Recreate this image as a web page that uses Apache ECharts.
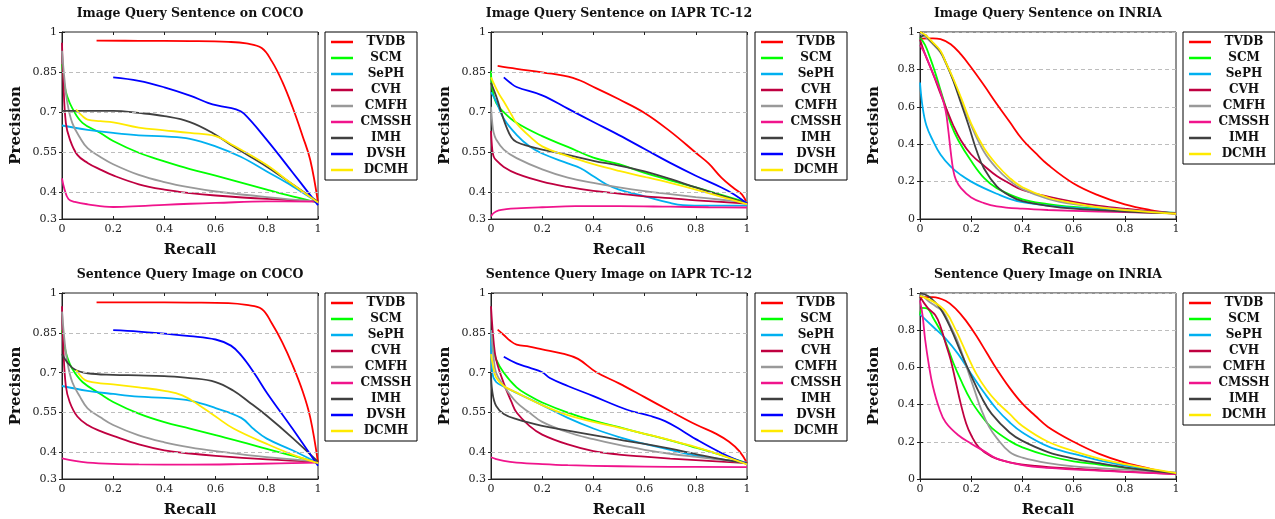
<!DOCTYPE html>
<html>
<head>
<meta charset="utf-8">
<script src="https://cdn.jsdelivr.net/npm/echarts@6/dist/echarts.min.js"></script>
<style>
  html, body { margin: 0; padding: 0; background: #fff; }
  #chart { width: 1275px; height: 519px; }
</style>
</head>
<body>
<div id="chart"></div>
<script>
// method names, in legend order
const methods = ['TVDB', 'SCM', 'SePH', 'CVH', 'CMFH', 'CMSSH', 'IMH', 'DVSH', 'DCMH'];
const methodsInria = ['TVDB', 'SCM', 'SePH', 'CVH', 'CMFH', 'CMSSH', 'IMH', 'DCMH'];

const titles = [
  'Image Query Sentence on COCO', 'Image Query Sentence on IAPR TC-12', 'Image Query Sentence on INRIA',
  'Sentence Query Image on COCO', 'Sentence Query Image on IAPR TC-12', 'Sentence Query Image on INRIA'
];

const yTicksCoco = [0.3, 0.4, 0.55, 0.7, 0.85, 1];
const yGridCoco = [0.4, 0.55, 0.7, 0.85];

// ---- Image query Sentence, COCO  [recall, precision]
const isCoco_TVDB = [[0.135,0.968],[0.3,0.967],[0.5,0.966],[0.65,0.963],[0.72,0.957],[0.78,0.94],[0.82,0.89],[0.86,0.815],[0.9,0.72],[0.94,0.61],[0.97,0.52],[1,0.362]];
const isCoco_SCM = [[0,0.88],[0.01,0.8],[0.02,0.76],[0.04,0.715],[0.08,0.66],[0.15,0.622],[0.2,0.592],[0.3,0.548],[0.4,0.516],[0.5,0.487],[0.6,0.462],[0.7,0.436],[0.8,0.41],[0.9,0.385],[1,0.362]];
const isCoco_SePH = [[0,0.65],[0.1,0.634],[0.2,0.622],[0.3,0.613],[0.4,0.609],[0.5,0.6],[0.6,0.572],[0.7,0.532],[0.8,0.478],[0.9,0.423],[1,0.362]];
const isCoco_CVH = [[0,0.96],[0.005,0.82],[0.015,0.66],[0.03,0.6],[0.06,0.54],[0.1,0.51],[0.15,0.485],[0.2,0.463],[0.3,0.43],[0.4,0.41],[0.5,0.397],[0.6,0.388],[0.8,0.375],[1,0.366]];
const isCoco_CMFH = [[0,0.93],[0.01,0.82],[0.02,0.74],[0.04,0.66],[0.07,0.605],[0.1,0.565],[0.15,0.532],[0.2,0.505],[0.3,0.465],[0.4,0.438],[0.5,0.418],[0.6,0.403],[0.8,0.382],[1,0.365]];
const isCoco_CMSSH = [[0,0.452],[0.01,0.41],[0.025,0.375],[0.05,0.364],[0.1,0.355],[0.2,0.345],[0.3,0.348],[0.4,0.353],[0.5,0.357],[0.6,0.36],[0.8,0.366],[1,0.365]];
const isCoco_IMH = [[0,0.705],[0.2,0.705],[0.3,0.697],[0.4,0.685],[0.5,0.663],[0.59,0.621],[0.67,0.571],[0.8,0.496],[0.9,0.43],[1,0.365]];
const isCoco_DVSH = [[0.2,0.83],[0.3,0.817],[0.4,0.793],[0.5,0.762],[0.57,0.735],[0.61,0.724],[0.68,0.71],[0.71,0.695],[0.8,0.596],[0.9,0.475],[1,0.352]];
const isCoco_DCMH = [[0.055,0.71],[0.08,0.685],[0.1,0.672],[0.15,0.666],[0.2,0.662],[0.3,0.642],[0.4,0.632],[0.5,0.622],[0.6,0.61],[0.67,0.575],[0.8,0.502],[0.9,0.43],[1,0.362]];

// ---- Image query Sentence, IAPR TC-12
const isIapr_TVDB = [[0.026,0.873],[0.1,0.862],[0.2,0.849],[0.32,0.828],[0.41,0.79],[0.5,0.748],[0.6,0.697],[0.7,0.628],[0.8,0.548],[0.85,0.508],[0.9,0.455],[0.95,0.414],[0.98,0.392],[1,0.358]];
const isIapr_SCM = [[0,0.855],[0.005,0.79],[0.02,0.735],[0.05,0.7],[0.1,0.66],[0.2,0.61],[0.3,0.57],[0.4,0.53],[0.5,0.505],[0.6,0.473],[0.7,0.445],[0.8,0.418],[0.9,0.39],[1,0.362]];
const isIapr_SePH = [[0,0.775],[0.02,0.74],[0.05,0.675],[0.1,0.615],[0.15,0.572],[0.2,0.545],[0.3,0.508],[0.35,0.49],[0.4,0.46],[0.45,0.43],[0.5,0.41],[0.6,0.385],[0.7,0.36],[0.75,0.352],[0.85,0.35],[1,0.35]];
const isIapr_CVH = [[0,0.63],[0.005,0.56],[0.01,0.535],[0.02,0.52],[0.05,0.495],[0.1,0.47],[0.2,0.44],[0.3,0.42],[0.4,0.405],[0.5,0.395],[0.6,0.385],[0.7,0.378],[0.8,0.37],[1,0.358]];
const isIapr_CMFH = [[0,0.72],[0.005,0.66],[0.01,0.625],[0.02,0.598],[0.05,0.56],[0.1,0.528],[0.2,0.486],[0.3,0.455],[0.4,0.435],[0.5,0.418],[0.6,0.404],[0.7,0.393],[0.8,0.382],[0.9,0.372],[1,0.362]];
const isIapr_CMSSH = [[0,0.31],[0.01,0.322],[0.03,0.332],[0.06,0.337],[0.1,0.34],[0.2,0.344],[0.33,0.348],[0.5,0.348],[0.7,0.346],[0.85,0.344],[1,0.343]];
const isIapr_IMH = [[0,0.81],[0.02,0.76],[0.04,0.7],[0.06,0.645],[0.08,0.605],[0.1,0.588],[0.15,0.572],[0.2,0.56],[0.3,0.54],[0.4,0.518],[0.5,0.5],[0.6,0.478],[0.7,0.45],[0.8,0.418],[0.9,0.388],[1,0.358]];
const isIapr_DVSH = [[0.05,0.83],[0.075,0.81],[0.1,0.794],[0.2,0.763],[0.3,0.713],[0.4,0.663],[0.5,0.614],[0.6,0.562],[0.7,0.51],[0.8,0.462],[0.9,0.418],[0.95,0.392],[1,0.358]];
const isIapr_DCMH = [[0,0.83],[0.03,0.77],[0.05,0.74],[0.08,0.69],[0.1,0.658],[0.15,0.61],[0.2,0.572],[0.3,0.535],[0.4,0.505],[0.5,0.48],[0.6,0.458],[0.7,0.435],[0.8,0.41],[0.9,0.383],[1,0.356]];

// ---- Image query Sentence, INRIA
const isInria_TVDB = [[0,0.965],[0.05,0.966],[0.08,0.962],[0.12,0.935],[0.16,0.88],[0.2,0.81],[0.25,0.715],[0.3,0.615],[0.35,0.52],[0.4,0.425],[0.45,0.355],[0.5,0.29],[0.6,0.19],[0.7,0.125],[0.8,0.078],[0.9,0.048],[1,0.028]];
const isInria_SCM = [[0,0.97],[0.02,0.93],[0.04,0.86],[0.06,0.78],[0.08,0.69],[0.1,0.6],[0.12,0.51],[0.15,0.42],[0.2,0.31],[0.25,0.22],[0.3,0.165],[0.4,0.105],[0.5,0.08],[0.6,0.065],[0.8,0.045],[1,0.032]];
const isInria_SePH = [[0,0.73],[0.01,0.6],[0.025,0.5],[0.05,0.42],[0.08,0.345],[0.12,0.28],[0.16,0.235],[0.2,0.2],[0.25,0.165],[0.3,0.135],[0.35,0.108],[0.4,0.09],[0.5,0.072],[0.6,0.06],[0.8,0.045],[1,0.032]];
const isInria_CVH = [[0,0.96],[0.02,0.88],[0.05,0.78],[0.08,0.67],[0.1,0.6],[0.13,0.5],[0.16,0.42],[0.2,0.345],[0.25,0.285],[0.3,0.23],[0.35,0.19],[0.4,0.155],[0.5,0.12],[0.6,0.092],[0.7,0.07],[0.8,0.055],[1,0.03]];
const isInria_CMFH = [[0,0.99],[0.02,0.975],[0.05,0.935],[0.08,0.89],[0.1,0.835],[0.13,0.745],[0.16,0.64],[0.2,0.5],[0.25,0.36],[0.3,0.27],[0.35,0.205],[0.4,0.16],[0.5,0.108],[0.6,0.08],[0.8,0.05],[1,0.028]];
const isInria_CMSSH = [[0,0.93],[0.02,0.88],[0.05,0.78],[0.08,0.68],[0.1,0.58],[0.11,0.48],[0.12,0.36],[0.13,0.26],[0.14,0.21],[0.16,0.165],[0.2,0.115],[0.25,0.085],[0.3,0.068],[0.4,0.055],[0.5,0.048],[0.7,0.04],[1,0.03]];
const isInria_IMH = [[0,0.97],[0.02,0.985],[0.03,0.97],[0.05,0.94],[0.08,0.895],[0.1,0.84],[0.13,0.74],[0.16,0.62],[0.19,0.5],[0.22,0.37],[0.25,0.27],[0.3,0.175],[0.35,0.125],[0.4,0.095],[0.5,0.07],[0.6,0.055],[0.8,0.04],[1,0.03]];
const isInria_DCMH = [[0,1.0],[0.02,0.985],[0.05,0.945],[0.08,0.9],[0.1,0.84],[0.13,0.75],[0.16,0.65],[0.2,0.51],[0.25,0.38],[0.3,0.29],[0.35,0.22],[0.4,0.17],[0.5,0.115],[0.6,0.085],[0.7,0.062],[0.8,0.047],[1,0.028]];

// ---- Sentence query Image, COCO
const siCoco_TVDB = [[0.135,0.965],[0.3,0.965],[0.5,0.964],[0.65,0.962],[0.72,0.955],[0.78,0.94],[0.82,0.885],[0.86,0.815],[0.9,0.73],[0.94,0.63],[0.97,0.53],[1,0.362]];
const siCoco_SCM = [[0,0.86],[0.01,0.8],[0.02,0.76],[0.04,0.715],[0.08,0.665],[0.15,0.62],[0.2,0.59],[0.3,0.546],[0.4,0.514],[0.5,0.49],[0.6,0.465],[0.7,0.44],[0.8,0.413],[0.9,0.388],[1,0.362]];
const siCoco_SePH = [[0,0.65],[0.1,0.632],[0.2,0.62],[0.3,0.61],[0.4,0.605],[0.5,0.595],[0.6,0.567],[0.7,0.53],[0.75,0.487],[0.8,0.452],[0.9,0.408],[1,0.36]];
const siCoco_CVH = [[0,0.95],[0.005,0.8],[0.015,0.65],[0.03,0.59],[0.06,0.535],[0.1,0.503],[0.15,0.48],[0.2,0.462],[0.3,0.43],[0.4,0.408],[0.5,0.396],[0.6,0.387],[0.8,0.374],[1,0.365]];
const siCoco_CMFH = [[0,0.93],[0.01,0.82],[0.02,0.745],[0.04,0.665],[0.07,0.61],[0.1,0.566],[0.15,0.532],[0.2,0.503],[0.3,0.464],[0.4,0.438],[0.5,0.419],[0.6,0.405],[0.8,0.382],[1,0.366]];
const siCoco_CMSSH = [[0,0.378],[0.05,0.368],[0.1,0.362],[0.2,0.357],[0.3,0.355],[0.5,0.354],[0.7,0.356],[0.85,0.359],[1,0.362]];
const siCoco_IMH = [[0,0.77],[0.02,0.74],[0.05,0.712],[0.1,0.698],[0.2,0.692],[0.3,0.69],[0.4,0.687],[0.5,0.68],[0.6,0.665],[0.67,0.632],[0.73,0.59],[0.8,0.538],[0.9,0.455],[1,0.365]];
const siCoco_DVSH = [[0.2,0.86],[0.3,0.855],[0.4,0.847],[0.5,0.838],[0.6,0.825],[0.66,0.802],[0.7,0.765],[0.75,0.7],[0.8,0.625],[0.9,0.49],[1,0.35]];
const siCoco_DCMH = [[0.055,0.71],[0.08,0.68],[0.1,0.668],[0.15,0.66],[0.2,0.656],[0.3,0.645],[0.4,0.632],[0.47,0.615],[0.54,0.575],[0.6,0.535],[0.67,0.49],[0.8,0.432],[0.9,0.392],[1,0.36]];

// ---- Sentence query Image, IAPR TC-12
const siIapr_TVDB = [[0.026,0.862],[0.05,0.842],[0.075,0.82],[0.1,0.806],[0.15,0.798],[0.2,0.788],[0.28,0.772],[0.34,0.752],[0.41,0.703],[0.5,0.66],[0.6,0.608],[0.7,0.556],[0.8,0.505],[0.88,0.47],[0.93,0.44],[0.97,0.405],[1,0.36]];
const siIapr_SCM = [[0,0.86],[0.01,0.79],[0.02,0.75],[0.05,0.7],[0.1,0.645],[0.15,0.613],[0.2,0.588],[0.3,0.55],[0.4,0.52],[0.5,0.495],[0.6,0.47],[0.7,0.445],[0.8,0.418],[0.9,0.39],[1,0.36]];
const siIapr_SePH = [[0,0.86],[0.005,0.7],[0.02,0.665],[0.05,0.648],[0.1,0.624],[0.2,0.578],[0.3,0.53],[0.4,0.49],[0.5,0.458],[0.6,0.432],[0.7,0.41],[0.8,0.388],[0.9,0.374],[1,0.362]];
const siIapr_CVH = [[0,0.95],[0.01,0.82],[0.02,0.75],[0.05,0.66],[0.08,0.59],[0.1,0.55],[0.15,0.5],[0.2,0.467],[0.3,0.43],[0.4,0.405],[0.5,0.392],[0.6,0.384],[0.7,0.377],[0.8,0.371],[1,0.36]];
const siIapr_CMFH = [[0,0.86],[0.01,0.76],[0.02,0.7],[0.05,0.65],[0.1,0.588],[0.15,0.55],[0.2,0.515],[0.3,0.476],[0.4,0.45],[0.5,0.428],[0.6,0.41],[0.7,0.395],[0.8,0.383],[0.9,0.372],[1,0.362]];
const siIapr_CMSSH = [[0,0.382],[0.02,0.375],[0.05,0.368],[0.1,0.362],[0.2,0.356],[0.3,0.352],[0.5,0.348],[0.7,0.346],[1,0.345]];
const siIapr_IMH = [[0,0.7],[0.005,0.63],[0.02,0.575],[0.05,0.545],[0.1,0.525],[0.2,0.5],[0.3,0.482],[0.4,0.465],[0.5,0.448],[0.6,0.432],[0.7,0.414],[0.8,0.394],[0.9,0.375],[1,0.36]];
const siIapr_DVSH = [[0.05,0.76],[0.1,0.735],[0.15,0.719],[0.2,0.702],[0.23,0.68],[0.3,0.65],[0.4,0.612],[0.5,0.572],[0.55,0.555],[0.62,0.538],[0.68,0.518],[0.75,0.48],[0.8,0.45],[0.9,0.398],[1,0.356]];
const siIapr_DCMH = [[0,0.77],[0.01,0.715],[0.02,0.682],[0.05,0.65],[0.1,0.625],[0.2,0.578],[0.3,0.54],[0.4,0.515],[0.5,0.493],[0.6,0.47],[0.7,0.446],[0.8,0.42],[0.9,0.39],[1,0.355]];

// ---- Sentence query Image, INRIA
const siInria_TVDB = [[0,0.978],[0.05,0.978],[0.1,0.958],[0.14,0.915],[0.18,0.85],[0.22,0.77],[0.26,0.68],[0.3,0.59],[0.35,0.49],[0.4,0.405],[0.45,0.34],[0.5,0.28],[0.6,0.2],[0.7,0.135],[0.8,0.088],[0.9,0.055],[1,0.027]];
const siInria_SCM = [[0,0.88],[0.01,0.92],[0.03,0.915],[0.05,0.87],[0.09,0.77],[0.13,0.625],[0.16,0.53],[0.2,0.42],[0.24,0.34],[0.28,0.275],[0.35,0.205],[0.4,0.17],[0.5,0.125],[0.6,0.095],[0.7,0.078],[0.8,0.06],[1,0.03]];
const siInria_SePH = [[0,0.885],[0.05,0.82],[0.1,0.755],[0.15,0.67],[0.2,0.565],[0.25,0.465],[0.3,0.375],[0.35,0.305],[0.4,0.25],[0.5,0.175],[0.6,0.135],[0.7,0.1],[0.8,0.073],[0.9,0.05],[1,0.03]];
const siInria_CVH = [[0,0.98],[0.03,0.92],[0.06,0.88],[0.08,0.82],[0.1,0.73],[0.12,0.64],[0.14,0.52],[0.16,0.4],[0.18,0.3],[0.2,0.235],[0.23,0.17],[0.28,0.12],[0.35,0.09],[0.45,0.07],[0.6,0.055],[0.8,0.04],[1,0.027]];
const siInria_CMFH = [[0,1.0],[0.03,0.96],[0.06,0.93],[0.09,0.9],[0.12,0.82],[0.15,0.73],[0.18,0.61],[0.21,0.49],[0.24,0.37],[0.27,0.28],[0.3,0.22],[0.35,0.145],[0.4,0.115],[0.5,0.085],[0.6,0.068],[0.8,0.05],[1,0.036]];
const siInria_CMSSH = [[0,0.96],[0.01,0.88],[0.02,0.75],[0.035,0.61],[0.05,0.5],[0.075,0.38],[0.1,0.305],[0.15,0.235],[0.2,0.19],[0.25,0.15],[0.3,0.11],[0.4,0.075],[0.5,0.06],[0.7,0.045],[1,0.027]];
const siInria_IMH = [[0,1.0],[0.03,0.985],[0.05,0.962],[0.08,0.915],[0.12,0.81],[0.16,0.68],[0.2,0.555],[0.24,0.44],[0.28,0.35],[0.35,0.25],[0.4,0.205],[0.5,0.145],[0.6,0.11],[0.7,0.085],[0.8,0.063],[1,0.03]];
const siInria_DCMH = [[0,0.985],[0.05,0.955],[0.1,0.9],[0.14,0.8],[0.18,0.68],[0.22,0.565],[0.26,0.48],[0.3,0.415],[0.35,0.35],[0.4,0.285],[0.5,0.2],[0.6,0.15],[0.7,0.11],[0.8,0.08],[0.9,0.055],[1,0.032]];

const colorOf = {
  TVDB: '#ff0000', SCM: '#00ff00', SePH: '#00b0f0', CVH: '#bf0040', CMFH: '#999999',
  CMSSH: '#f0148c', IMH: '#404040', DVSH: '#0000ff', DCMH: '#ffea00'
};

const panels = [
  { curves: [isCoco_TVDB, isCoco_SCM, isCoco_SePH, isCoco_CVH, isCoco_CMFH, isCoco_CMSSH, isCoco_IMH, isCoco_DVSH, isCoco_DCMH], names: methods, left: 62, top: 32, legendLeft: 325, inria: false },
  { curves: [isIapr_TVDB, isIapr_SCM, isIapr_SePH, isIapr_CVH, isIapr_CMFH, isIapr_CMSSH, isIapr_IMH, isIapr_DVSH, isIapr_DCMH], names: methods, left: 491, top: 32, legendLeft: 755, inria: false },
  { curves: [isInria_TVDB, isInria_SCM, isInria_SePH, isInria_CVH, isInria_CMFH, isInria_CMSSH, isInria_IMH, isInria_DCMH], names: methodsInria, left: 920, top: 32, legendLeft: 1183, inria: true },
  { curves: [siCoco_TVDB, siCoco_SCM, siCoco_SePH, siCoco_CVH, siCoco_CMFH, siCoco_CMSSH, siCoco_IMH, siCoco_DVSH, siCoco_DCMH], names: methods, left: 62, top: 293, legendLeft: 325, inria: false },
  { curves: [siIapr_TVDB, siIapr_SCM, siIapr_SePH, siIapr_CVH, siIapr_CMFH, siIapr_CMSSH, siIapr_IMH, siIapr_DVSH, siIapr_DCMH], names: methods, left: 491, top: 293, legendLeft: 755, inria: false },
  { curves: [siInria_TVDB, siInria_SCM, siInria_SePH, siInria_CVH, siInria_CMFH, siInria_CMSSH, siInria_IMH, siInria_DCMH], names: methodsInria, left: 920, top: 293, legendLeft: 1183, inria: true }
];

const PW = 256, PH = 187;
const serif = 'DejaVu Serif';
const labelStyle = { fontFamily: serif, fontSize: 11, color: '#222' };
const nameStyle = { fontFamily: serif, fontSize: 15, fontWeight: 'bold', color: '#111' };
const tickStyle = { show: true, inside: true, length: 3, lineStyle: { color: '#222' } };

const grid = [], xMain = [], yMain = [], xTop = [], yRight = [], title = [], legend = [], series = [];

panels.forEach((p, i) => {
  grid.push({ left: p.left, top: p.top, width: PW, height: PH, show: true, borderColor: '#222', borderWidth: 1, backgroundColor: 'transparent' });
  title.push({
    text: titles[i], left: p.left + PW / 2, top: p.top - 25, textAlign: 'center', padding: 0,
    textStyle: { fontFamily: serif, fontSize: 12.5, fontWeight: 'bold', color: '#111' }
  });
  xMain.push({
    gridIndex: i, type: 'value', min: 0, max: 1, interval: 0.2,
    name: 'Recall', nameLocation: 'middle', nameGap: 24, nameTextStyle: nameStyle,
    axisLine: { show: true, lineStyle: { color: '#222' } },
    axisTick: tickStyle,
    axisLabel: Object.assign({ margin: 5 }, labelStyle),
    splitLine: { show: false }
  });
  // ticks on the top edge of the frame
  xTop.push({
    gridIndex: i, type: 'value', position: 'top', min: 0, max: 1, interval: 0.2,
    axisLine: { show: false }, axisTick: tickStyle, axisLabel: { show: false }, splitLine: { show: false }
  });
  const yTicks = p.inria ? {} : { customValues: yTicksCoco };
  yRight.push({
    gridIndex: i, type: 'value', position: 'right', min: p.inria ? 0 : 0.3, max: 1, interval: p.inria ? 0.2 : 0.1,
    axisLine: { show: false }, axisTick: Object.assign({}, yTicks, tickStyle), axisLabel: { show: false }, splitLine: { show: false }
  });
  if (p.inria) {
    yMain.push({
      gridIndex: i, type: 'value', min: 0, max: 1, interval: 0.2,
      name: 'Precision', nameLocation: 'middle', nameGap: 38, nameTextStyle: nameStyle,
      axisLine: { show: true, lineStyle: { color: '#222' } },
      axisTick: tickStyle,
      axisLabel: Object.assign({ margin: 5 }, labelStyle),
      splitLine: { show: true, lineStyle: { type: [4, 3], color: '#bdbdbd', width: 1 } }
    });
  } else {
    yMain.push({
      gridIndex: i, type: 'value', min: 0.3, max: 1, interval: 0.1,
      name: 'Precision', nameLocation: 'middle', nameGap: 38, nameTextStyle: nameStyle,
      axisLine: { show: true, lineStyle: { color: '#222' } },
      axisTick: Object.assign({ customValues: yTicksCoco }, tickStyle),
      axisLabel: Object.assign({ margin: 5, customValues: yTicksCoco }, labelStyle),
      splitLine: { show: false }
    });
    // dashed grid lines at the labelled ticks
    series.push({
      type: 'line', xAxisIndex: i, yAxisIndex: i, data: [[0, 0.3], [1, 0.3]], silent: true, z: 1,
      showSymbol: false, lineStyle: { width: 0, opacity: 0 },
      markLine: {
        silent: true, symbol: 'none', label: { show: false },
        lineStyle: { type: [4, 3], color: '#bdbdbd', width: 1 },
        data: yGridCoco.map(v => ({ yAxis: v }))
      }
    });
  }
  legend.push({
    orient: 'vertical', left: p.legendLeft, top: p.top, data: p.names,
    icon: 'rect', itemWidth: 22, itemHeight: 2.5, itemGap: 4,
    padding: [4, 3, 4, 6], borderColor: '#000', borderWidth: 1, backgroundColor: '#fff',
    selectedMode: false,
    formatter: '{a|{name}}',
    textStyle: { rich: { a: { width: 56, height: 12, lineHeight: 12, align: 'center', fontFamily: serif, fontSize: 12, fontWeight: 'bold', color: '#111' } } }
  });
  p.curves.forEach((d, k) => {
    const nm = p.names[k];
    series.push({
      name: nm, type: 'line', xAxisIndex: i, yAxisIndex: i, data: d, z: 2,
      smooth: 0.4, showSymbol: false, clip: true,
      color: colorOf[nm],
      itemStyle: { color: colorOf[nm] },
      lineStyle: { color: colorOf[nm], width: 1.8 }
    });
  });
});

const chart = echarts.init(document.getElementById('chart'));
chart.setOption({
  animation: false,
  backgroundColor: '#fff',
  title, grid,
  xAxis: xMain.concat(xTop),
  yAxis: yMain.concat(yRight),
  legend, series
});
</script>
</body>
</html>
